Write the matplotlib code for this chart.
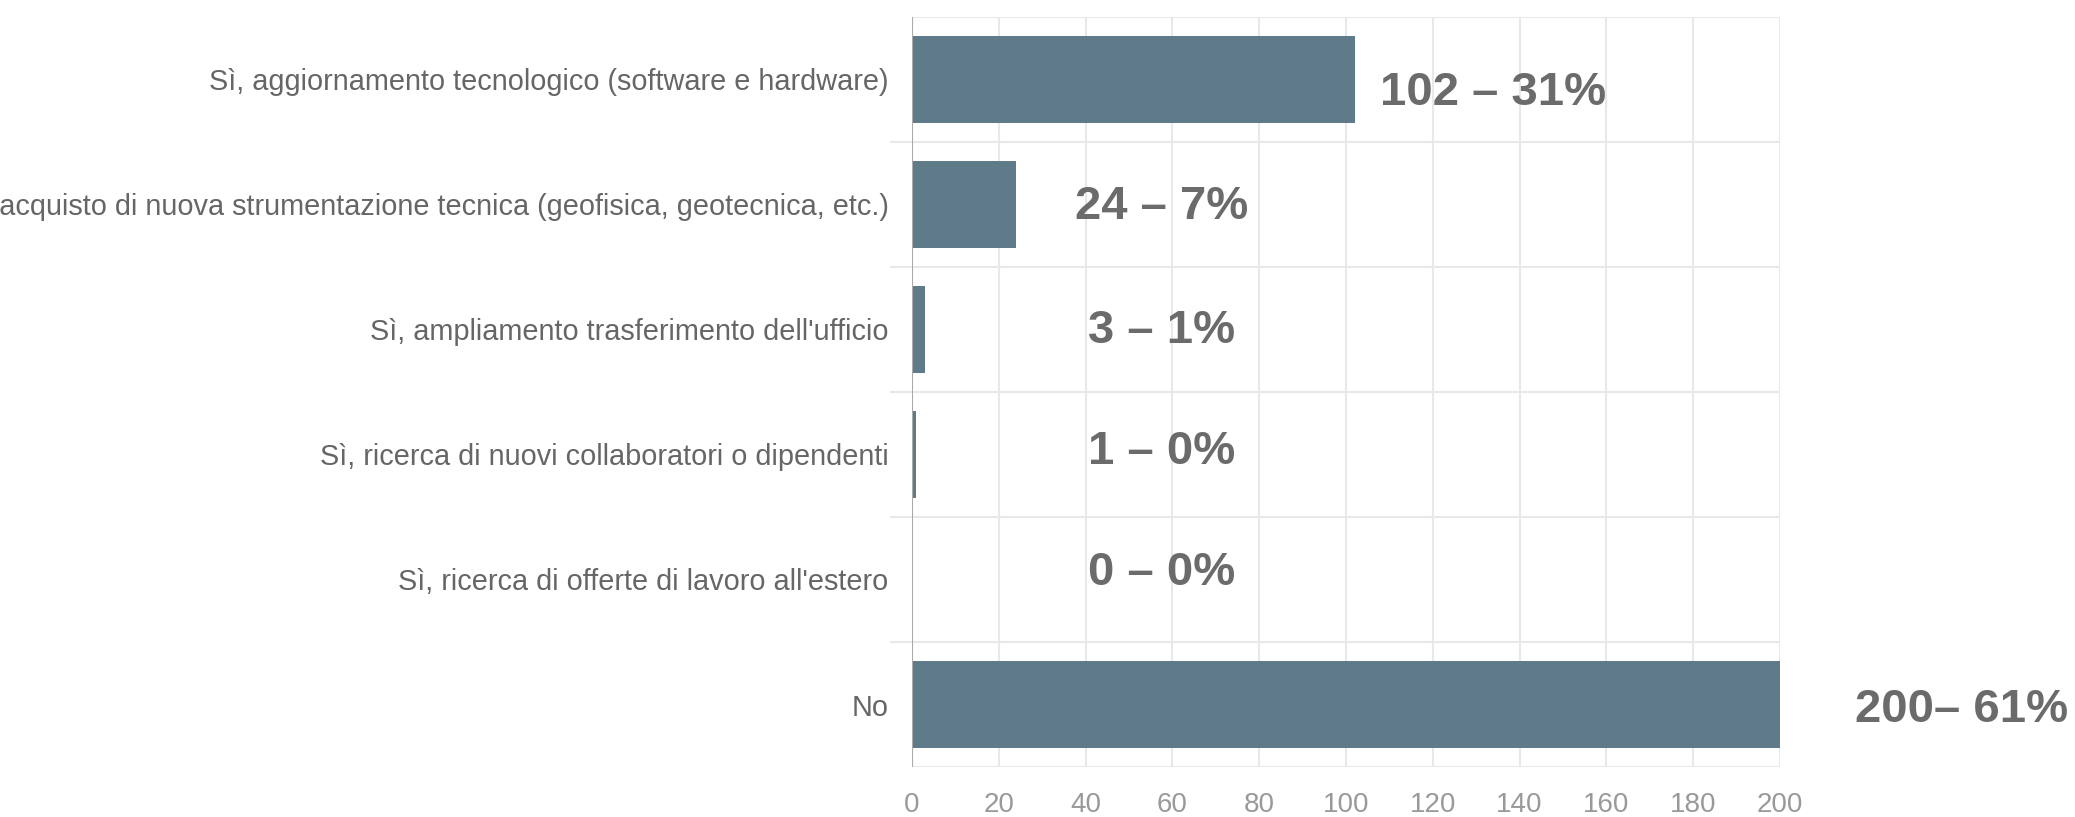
import matplotlib.pyplot as plt
import numpy as np

# data
categories = ["Sì, aggiornamento tecnologico (software e hardware)",
              "Sì, acquisto di nuova strumentazione tecnica (geofisica, geotecnica, etc.)",
              "Sì, ampliamento trasferimento dell'ufficio",
              "Sì, ricerca di nuovi collaboratori o dipendenti",
              "Sì, ricerca di offerte di lavoro all'estero",
              "No"]
counts = [102, 24, 3, 1, 0, 200]
labels = ["102 – 31%", "24 – 7%", "3 – 1%", "1 – 0%", "0 – 0%", "200– 61%"]
xticks = [0, 20, 40, 60, 80, 100, 120, 140, 160, 180, 200]

# where the big labels sit (data x, row offset)
label_x = [107.8, 37.6, 40.6, 40.6, 40.6, 217.3]
label_dy = [0.11, 0.02, 0.01, -0.02, -0.05, 0.04]

plt.rcParams['font.family'] = ['Liberation Sans', 'DejaVu Sans']

fig = plt.figure(figsize=(20.75, 8.17), dpi=100)
ax = fig.add_axes([912/2075, 1-767/817, 868/2075, 750/817])

y = np.arange(len(categories))
ax.barh(y, counts, height=0.70, color="#5f7a88", zorder=3)

ax.set_xlim(0, 200)
ax.set_ylim(len(categories)-0.5, -0.5)

# grid
for xv in xticks[1:]:
    ax.axvline(xv, color="#e8e8e8", lw=1.5, zorder=1)
for b in np.arange(0.5, len(categories)-0.5):
    ax.hlines(b, -5, 200, color="#e8e8e8", lw=1.5, zorder=1, clip_on=False)
ax.hlines([-0.5, len(categories)-0.5], 0, 200, color="#e8e8e8", lw=1.5, zorder=1)
ax.axvline(0, color="#aaaaaa", lw=1.5, zorder=4)

for s in ax.spines.values():
    s.set_visible(False)

ax.set_yticks(y)
ax.set_yticklabels(categories, fontsize=20.8, color="#666666")
ax.set_xticks(xticks)
ax.set_xticklabels([str(t) for t in xticks], fontsize=20, color="#999999")
ax.tick_params(axis='y', length=0, pad=17)
ax.tick_params(axis='x', length=0, pad=18)

for i, lab in enumerate(labels):
    ax.text(label_x[i], y[i]+label_dy[i], lab, fontsize=34, fontweight='bold',
            color="#6b6b6b", ha='left', va='center', clip_on=False)

fig.savefig("out.png", dpi=100)
